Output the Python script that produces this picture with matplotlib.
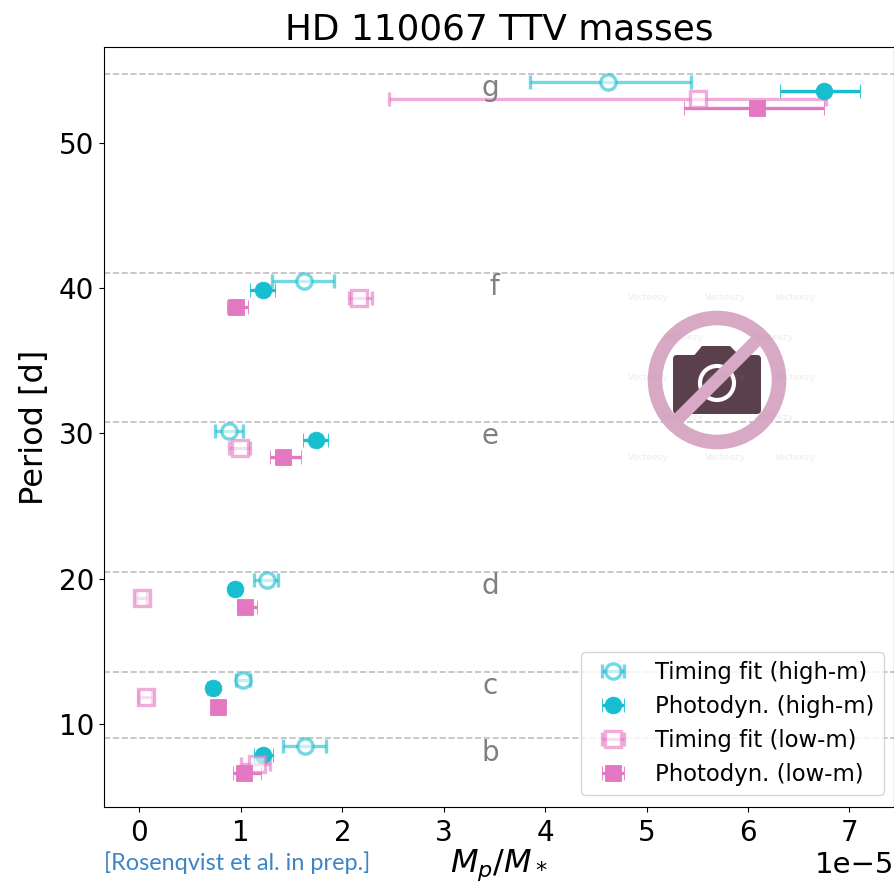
import matplotlib
matplotlib.use('Agg')
import numpy as np
import matplotlib.pyplot as plt
from matplotlib.patches import Circle, FancyBboxPatch, Polygon

# planet periods and label positions (b, c, d, e, f, g)
planet_names = ['b', 'c', 'd', 'e', 'f', 'g']
planet_periods = [9.05, 13.6, 20.47, 30.8, 41.05, 54.75]
label_x = [3.46, 3.46, 3.46, 3.46, 3.50, 3.46]
label_y = [8.0, 12.65, 19.47, 29.8, 40.07, 53.8]

# masses in units of 1e-5, with lower and upper error bar ends
th_per = [8.5, 13.04, 19.93, 30.2, 40.47, 54.2]
th_m = [1.63, 1.02, 1.26, 0.88, 1.62, 4.62]
th_lo = [1.42, 0.95, 1.13, 0.74, 1.31, 3.85]
th_hi = [1.84, 1.09, 1.37, 1.02, 1.92, 5.44]

ph_per = [7.85, 12.45, 19.3, 29.55, 39.9, 53.6]
ph_m = [1.22, 0.72, 0.94, 1.74, 1.22, 6.75]
ph_lo = [1.13, 0.67, 0.89, 1.61, 1.09, 6.32]
ph_hi = [1.32, 0.77, 0.99, 1.86, 1.34, 7.10]

tl_per = [7.26, 11.84, 18.7, 29.0, 39.3, 53.0]
tl_m = [1.16, 0.06, 0.02, 0.99, 2.16, 5.51]
tl_lo = [1.00, 0.00, -0.03, 0.88, 2.07, 2.46]
tl_hi = [1.29, 0.12, 0.07, 1.09, 2.29, 6.77]

pl_per = [6.65, 11.2, 18.07, 28.35, 38.7, 52.4]
pl_m = [1.03, 0.77, 1.04, 1.42, 0.95, 6.09]
pl_lo = [0.92, 0.72, 0.96, 1.29, 0.86, 5.37]
pl_hi = [1.20, 0.82, 1.16, 1.59, 1.07, 6.75]

cyan = '#17becf'
pink = '#e377c2'

def draw(ax, per, m, lo, hi, color, marker, face, alpha, label):
  m = np.array(m)
  xerr = [(m - np.array(lo))*1e-5, (np.array(hi) - m)*1e-5]
  filled = face != 'white'
  ax.errorbar(m*1e-5, per, xerr=xerr, fmt=marker, color=color, mfc=face, mec=color,
              ms=12 if filled else 11, mew=0.6 if filled else 2.4,
              elinewidth=2.4, capsize=4.8, capthick=1.9, alpha=alpha, label=label)

fig = plt.figure(figsize=(8.94, 8.84), dpi=100)
ax = fig.add_axes([104/894, 1-807/884, 790/894, 760/884])

for p in planet_periods:
  ax.axhline(p, color='gray', ls='--', lw=1.2, alpha=0.5, zorder=1)
for n, x, y in zip(planet_names, label_x, label_y):
  ax.text(x*1e-5, y, n, color='gray', fontsize=20, ha='center', va='center')

draw(ax, ph_per, ph_m, ph_lo, ph_hi, cyan, 'o', cyan, 1.0, 'Photodyn. (high-m)')
draw(ax, th_per, th_m, th_lo, th_hi, cyan, 'o', 'white', 0.6, 'Timing fit (high-m)')
draw(ax, tl_per, tl_m, tl_lo, tl_hi, pink, 's', 'white', 0.6, 'Timing fit (low-m)')
draw(ax, pl_per, pl_m, pl_lo, pl_hi, pink, 's', pink, 1.0, 'Photodyn. (low-m)')

ax.set_xlim(-0.35e-5, 7.44e-5)
ax.set_ylim(4.29, 56.6)
ax.set_xticks(np.arange(0, 8)*1e-5)
ax.set_yticks([10, 20, 30, 40, 50])
ax.tick_params(labelsize=20)
ax.tick_params(axis='x', pad=5)
ax.xaxis.get_offset_text().set_fontsize(21)
ax.set_title('HD 110067 TTV masses', fontsize=25.8, pad=4)
ax.set_ylabel('Period [d]', fontsize=23, labelpad=6.5)
ax.set_xlabel(r'$M_p/M_*$', fontsize=23, labelpad=0.5)

h, l = ax.get_legend_handles_labels()
order = [1, 0, 2, 3]
ax.legend([h[i] for i in order], [l[i] for i in order], fontsize=16.4, loc='lower right',
          bbox_to_anchor=(0.987, 0.0158), borderaxespad=0, labelspacing=0.48, handletextpad=0.85)

fig.text(104/894, 1-869.5/884, '[Rosenqvist et al. in prep.]', family='Lato', fontsize=16.9,
         color='#3d85c6')

# stock-photo placeholder sitting on top of the plot
ov = fig.add_axes([0, 0, 1, 1], facecolor='none')
ov.set_xlim(0, 894)
ov.set_ylim(884, 0)
ov.axis('off')
for wy, wxs in [(298, [648, 725, 795]), (337, [683, 773]), (377, [648, 725, 795]),
                (417, [683, 773]), (457, [648, 725, 795])]:
  for wx in wxs:
    ov.text(wx, wy, 'Vecteezy', fontsize=6.5, color='#999999', alpha=0.18, ha='center', va='center')
ov.add_patch(FancyBboxPatch((677, 359), 80, 51, boxstyle='round,pad=4', fc='#5a404c', ec='none'))
ov.add_patch(Polygon([(692, 358), (702, 346), (730, 346), (742, 358)], fc='#5a404c', ec='none'))
ov.add_patch(Circle((717, 383), 17, fc='none', ec='white', lw=3))
ov.add_patch(Polygon([(672, 416), (752, 336), (761, 345), (681, 425)], fc='#d8a9c4', ec='none'))
ov.add_patch(Circle((717, 380), 62, fc='none', ec='#d8a9c4', lw=10.5))

fig.savefig('out.png', dpi=100)
